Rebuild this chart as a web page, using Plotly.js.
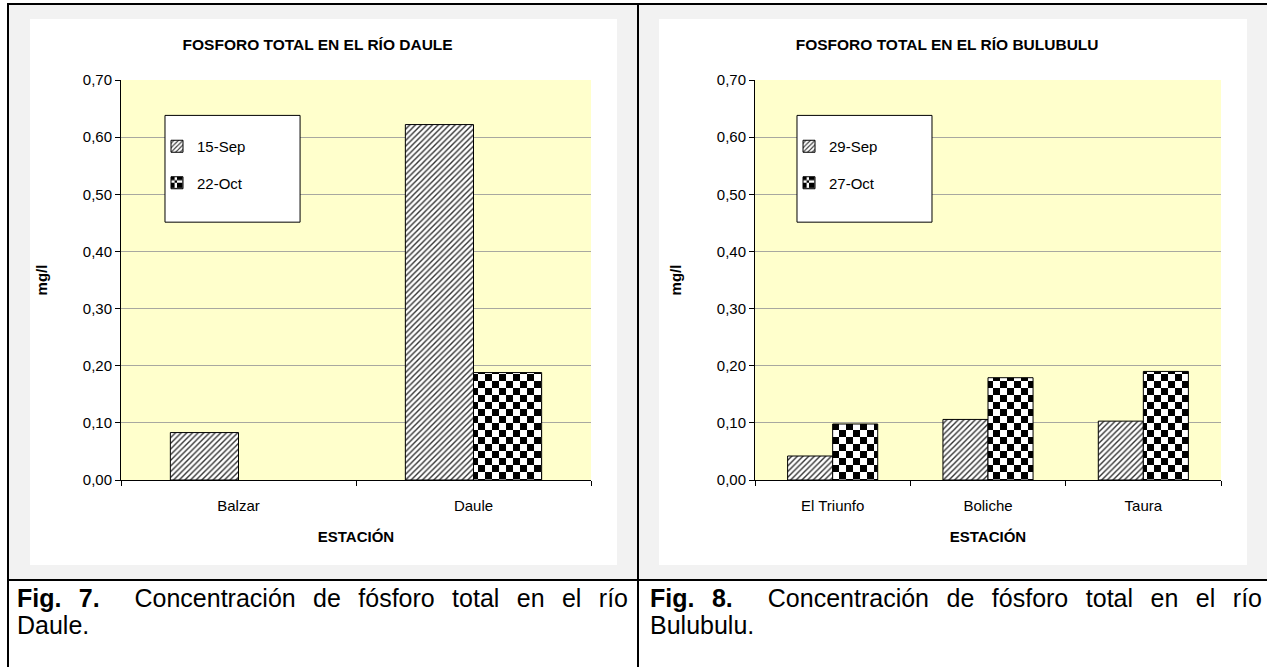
<!DOCTYPE html>
<html><head><meta charset="utf-8">
<script src="https://cdn.plot.ly/plotly-3.0.1.min.js"></script>
<style>
body{margin:0;background:#fff;width:1267px;height:667px;overflow:hidden;position:relative;font-family:"Liberation Sans",Arial,sans-serif;}
.cell{position:absolute;background:#f2f2f2;}
.ln{position:absolute;background:#000;}
.chart{position:absolute;background:#fff;}
.cap{position:absolute;font-size:25px;line-height:27px;color:#000;}
.j{text-align:justify;text-align-last:justify;}
</style></head><body>
<div class="cell" style="left:9px;top:5px;width:628px;height:574px"></div>
<div class="cell" style="left:639px;top:5px;width:628px;height:574px"></div>
<div class="ln" style="left:7px;top:3px;width:1260px;height:2px"></div>
<div class="ln" style="left:7px;top:3px;width:2px;height:664px"></div>
<div class="ln" style="left:637px;top:3px;width:2px;height:664px"></div>
<div class="ln" style="left:7px;top:579px;width:1260px;height:2px"></div>
<div id="c1" class="chart" style="left:30px;top:19px;width:587px;height:546px"></div>
<div id="c2" class="chart" style="left:659px;top:19px;width:588px;height:546px"></div>
<div class="cap" style="left:17px;top:585px;width:611px">
  <div class="j"><b>Fig. 7.</b>&nbsp; Concentración de fósforo total en el río</div>
  <div>Daule.</div>
</div>
<div class="cap" style="left:650px;top:585px;width:612px">
  <div class="j"><b>Fig. 8.</b>&nbsp; Concentración de fósforo total en el río</div>
  <div>Bulubulu.</div>
</div>
<script>
const dauleStations = ['Balzar', 'Daule'];
const dauleSep = [0.083, 0.622];
const dauleOct = [null, 0.188];
const dauleSeries = ['15-Sep', '22-Oct'];

const bulubuluStations = ['El Triunfo', 'Boliche', 'Taura'];
const bulubuluSep = [0.042, 0.106, 0.103];
const bulubuluOct = [0.098, 0.179, 0.19];
const bulubuluSeries = ['29-Sep', '27-Oct'];

const yTicks = [0, 0.1, 0.2, 0.3, 0.4, 0.5, 0.6, 0.7];
const chartTitles = ['FOSFORO TOTAL EN EL RÍO DAULE', 'FOSFORO TOTAL EN EL RÍO BULUBULU'];
const xTitle = 'ESTACIÓN';
const yTitle = 'mg/l';

const FONT = '"Liberation Sans", Arial, sans-serif';
const hatch = {shape: '/', size: 4, solidity: 0.35, fgcolor: '#333', bgcolor: '#fff'};
const checker = {path: 'M0,0H7V7H0Z M7,7H14V14H7Z', size: 14, solidity: 0.5, fgcolor: '#000', bgcolor: '#fff'};

function traces(cats, sep, oct, names) {
  return [
    {type: 'bar', x: cats, y: sep, name: names[0], legendgroup: 'a',
     marker: {color: '#fff', pattern: hatch, line: {color: '#000', width: 1}}},
    {type: 'bar', x: cats, y: oct, name: names[1], legendgroup: 'b',
     marker: {color: '#fff', pattern: checker, line: {color: '#000', width: 1}}}
  ];
}

function layout(title, w, l, box, legx) {
  return {
    width: w, height: 546,
    margin: {l: l, r: 26, t: 60.5, b: 84.5},
    paper_bgcolor: '#fff', plot_bgcolor: '#FFFFCC',
    separators: ',.',
    font: {family: FONT, size: 15, color: '#000'},
    title: {text: '<b>' + title + '</b>', x: 0.49, xref: 'container', xanchor: 'center',
            y: 1 - 26 / 546, yref: 'container', yanchor: 'middle', font: {size: 15.5, family: FONT}},
    barmode: 'group', bargap: 0.42, bargroupgap: 0,
    showlegend: true,
    legend: {x: legx, y: 0.875, xanchor: 'left', yanchor: 'top', bgcolor: 'rgba(0,0,0,0)',
             borderwidth: 0, tracegroupgap: 14, font: {size: 15, family: FONT}},
    xaxis: {showline: true, linecolor: '#000', linewidth: 1, ticks: 'outside', tickson: 'boundaries',
            ticklen: 5, tickcolor: '#000', showgrid: false, fixedrange: true, ticklabelstandoff: 12,
            title: {text: '<b>' + xTitle + '</b>', standoff: 18, font: {size: 15}}},
    yaxis: {range: [0, 0.7], tickvals: yTicks, tickformat: '.2f', showline: true, linecolor: '#000',
            linewidth: 1, ticks: 'outside', ticklen: 5, tickcolor: '#000', gridcolor: '#a8a8a0',
            zeroline: false, fixedrange: true,
            title: {text: '<b>' + yTitle + '</b>', standoff: 31, font: {size: 15}}},
    shapes: [{type: 'rect', xref: 'paper', yref: 'paper', x0: box[0], x1: box[1], y0: box[2], y1: box[3],
              fillcolor: '#fff', line: {color: '#000', width: 1}, layer: 'above'}]
  };
}

const cfg = {displayModeBar: false, staticPlot: true};
Plotly.newPlot('c1', traces(dauleStations, dauleSep, dauleOct, dauleSeries),
  layout(chartTitles[0], 587, 91, [0.0936, 0.381, 0.6446, 0.9115], 0.0766), cfg);
Plotly.newPlot('c2', traces(bulubuluStations, bulubuluSep, bulubuluOct, bulubuluSeries),
  layout(chartTitles[1], 588, 96, [0.0901, 0.3798, 0.6446, 0.9115], 0.073), cfg);
</script>
</body></html>
